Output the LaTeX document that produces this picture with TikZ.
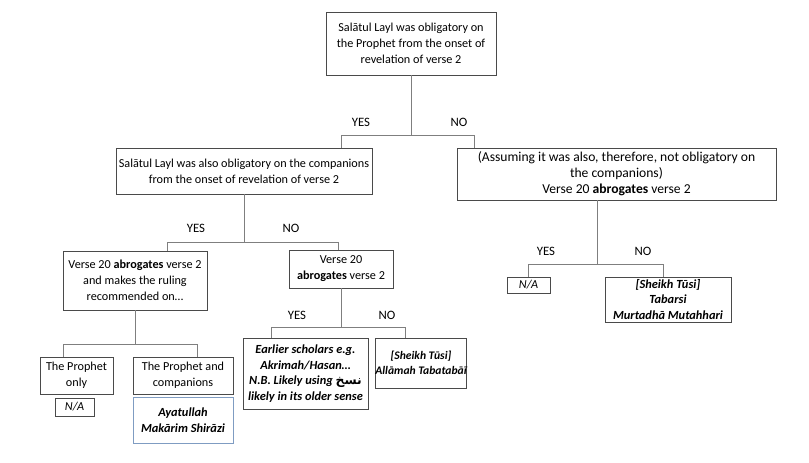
\documentclass[tikz,border=0pt]{standalone}
\usepackage{fontspec}
\setmainfont{Carlito}
\newfontfamily\arabicfont[Script=Arabic]{DejaVu Sans}
\TeXXeTstate=1
\definecolor{boxc}{HTML}{4A4A4A}
\definecolor{linec}{HTML}{7F7F7F}
\definecolor{bluec}{HTML}{7F9CC2}
\begin{document}
\begin{tikzpicture}[x=1pt,y=-1pt,
  box/.style={draw=boxc, line width=0.8pt, fill=white, align=center, inner sep=0pt,
    font=\fontsize{12.2}{16}\selectfont},
  bi/.style={font=\fontsize{12.4}{15.5}\selectfont\bfseries\itshape},
  conn/.style={draw=linec, line width=0.8pt},
  lab/.style={font=\fontsize{12.8}{14}\selectfont, inner sep=0pt}]
\useasboundingbox[fill=white] (0,0) rectangle (809,463);

% boxes
\node[box, minimum width=170pt, minimum height=63pt] (top) at (411,43.5)
  {Salātul Layl was obligatory on\\the Prophet from the onset of\\revelation of verse 2};
\node[box, minimum width=256pt, minimum height=46pt] (lmid) at (244,171)
  {Salātul Layl was also obligatory on the companions\\from the onset of revelation of verse 2};
\node[box, minimum width=319pt, minimum height=52pt, font=\fontsize{13.6}{16}\selectfont] (rmid) at (616.5,174)
  {(Assuming it was also, therefore, not obligatory on\\the companions)\\Verse 20 \textbf{abrogates} verse 2};
\node[box, minimum width=144pt, minimum height=59pt] (makes) at (135,280.5)
  {Verse 20 \textbf{abrogates} verse 2\\and makes the ruling\\recommended on\ldots};
\node[box, minimum width=104pt, minimum height=38pt] (v20) at (341,269)
  {Verse 20\\\textbf{abrogates} verse 2};
\node[box, bi, minimum width=125pt, minimum height=71pt] (scholars) at (305.5,373.5)
  {Earlier scholars e.g.\\Akrimah/Hasan\ldots\\N.B. Likely using {\arabicfont\upshape\bfseries\beginR نسخ\endR}\\likely in its older sense};
\node[box, minimum width=90pt, minimum height=50pt, font=\fontsize{11.6}{15}\selectfont\bfseries\itshape] (sheikhA) at (421,363)
  {[Sheikh Tūsi]\\Allāmah Tabatabāī};
\node[box, minimum width=73pt, minimum height=37pt] (ponly) at (76.5,375.5)
  {The Prophet\\only};
\node[box, minimum width=100pt, minimum height=37pt] (pcomp) at (183,375.5)
  {The Prophet and\\companions};
\node[box, minimum width=39pt, minimum height=18pt, font=\fontsize{12.2}{15}\selectfont\itshape] (naA) at (74.5,407)
  {N/A};
\node[box, bi, draw=bluec, minimum width=100pt, minimum height=46pt] (ayat) at (183,420)
  {Ayatullah\\Makārim Shirāzi};
\node[box, minimum width=43pt, minimum height=16pt, font=\fontsize{12.2}{15}\selectfont\itshape] (naB) at (528.5,285)
  {N/A};
\node[box, bi, minimum width=126pt, minimum height=45pt] (sheikhB) at (668,299.5)
  {[Sheikh Tūsi]\\Tabarsi\\Murtadhā Mutahhari};

% junction coordinates
\coordinate (jAL) at (341,135);
\coordinate (jAR) at (474,135);
\coordinate (jBL) at (167,242);
\coordinate (jBR) at (338,242);
\coordinate (jCL) at (63,344);
\coordinate (jCR) at (197,344);
\coordinate (jDL) at (271,327);
\coordinate (jDR) at (405,327);
\coordinate (jEL) at (528,264);
\coordinate (jER) at (663,264);

% connectors
\draw[conn] (top.south) -- (top.south |- jAL);
\draw[conn] (jAL |- lmid.north) -- (jAL) -- (jAR) -- (jAR |- rmid.north);
\draw[conn] (lmid.south) -- (lmid.south |- jBL);
\draw[conn] (jBL |- makes.north) -- (jBL) -- (jBR) -- (jBR |- v20.north);
\draw[conn] (makes.south) -- (makes.south |- jCL);
\draw[conn] (jCL |- ponly.north) -- (jCL) -- (jCR) -- (jCR |- pcomp.north);
\draw[conn] (v20.south) -- (v20.south |- jDL);
\draw[conn] (jDL |- scholars.north) -- (jDL) -- (jDR) -- (jDR |- sheikhA.north);
\draw[conn] (597,200) coordinate (rb) -- (rb |- jEL);
\draw[conn] (jEL |- naB.north) -- (jEL) -- (jER) -- (jER |- sheikhB.north);

% labels
\node[lab] (y1) at (361,122) {YES};
\node[lab] (n1) at (459,122) {NO};
\node[lab] (y2) at (196,228) {YES};
\node[lab] (n2) at (291,228) {NO};
\node[lab] (y3) at (297,315) {YES};
\node[lab] (n3) at (387,315) {NO};
\node[lab] (y4) at (546,251) {YES};
\node[lab] (n4) at (643,251) {NO};
\end{tikzpicture}
\end{document}
